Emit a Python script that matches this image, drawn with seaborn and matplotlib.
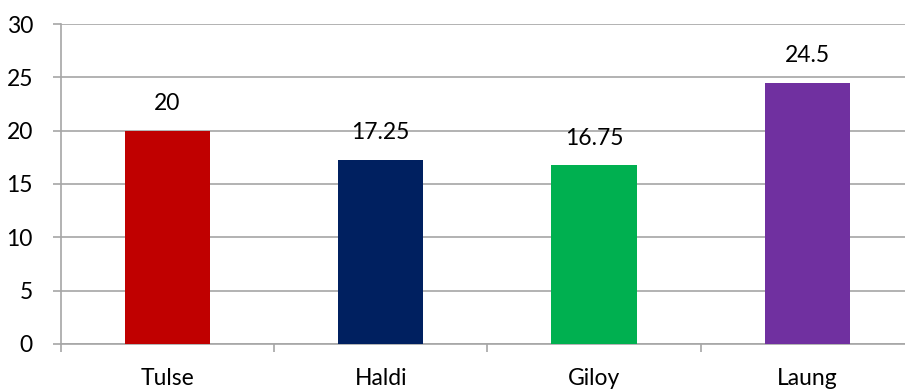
import matplotlib
matplotlib.use("Agg")
import matplotlib.pyplot as plt
from matplotlib.ticker import FixedLocator
import seaborn as sns
import pandas as pd

categories = ["Tulse", "Haldi", "Giloy", "Laung"]
values = [20, 17.25, 16.75, 24.5]
value_labels = ["20", "17.25", "16.75", "24.5"]
colors = ["#C00000", "#002060", "#00B050", "#7030A0"]
y_ticks = [0, 5, 10, 15, 20, 25, 30]

sns.set_theme(style="white")
plt.rcParams["font.family"] = ["Lato", "DejaVu Sans"]

df = pd.DataFrame({"herb": categories, "value": values})

fig = plt.figure(figsize=(9.05, 3.89), dpi=100)
ax = fig.add_axes([0.0671, 0.1157, 0.9428, 0.8226])

sns.barplot(data=df, x="herb", y="value", hue="herb", palette=colors,
            width=0.4, saturation=1, legend=False, linewidth=0, ax=ax, zorder=3)

grid_color = "#A6A6A6"
font_size = 16.5
ax.set_ylim(0, 30)
ax.set_xlim(-0.5, len(categories) - 0.5)
ax.set_yticks(y_ticks)
ax.yaxis.grid(True, color=grid_color, linewidth=1.2, zorder=0)
ax.set_axisbelow(True)

for side in ["top", "right"]:
    ax.spines[side].set_visible(False)
for side in ["left", "bottom"]:
    ax.spines[side].set_color(grid_color)
    ax.spines[side].set_linewidth(1.2)

ax.tick_params(axis="y", which="major", length=6, width=1.2, color=grid_color,
               labelsize=font_size, labelcolor="black", pad=14, left=True)
ax.tick_params(axis="x", which="major", length=0, labelsize=font_size,
               labelcolor="black", pad=17)
ax.xaxis.set_minor_locator(FixedLocator([i - 0.5 for i in range(len(categories) + 1)]))
ax.tick_params(axis="x", which="minor", length=6, width=1.2, color=grid_color,
               bottom=True)

ax.set_xlabel("")
ax.set_ylabel("")

for i, (v, txt) in enumerate(zip(values, value_labels)):
    ax.annotate(txt, (i, v), xytext=(0, 27), textcoords="offset pixels",
                ha="center", va="center", fontsize=font_size, color="black")

fig.savefig("out.png", dpi=100)
